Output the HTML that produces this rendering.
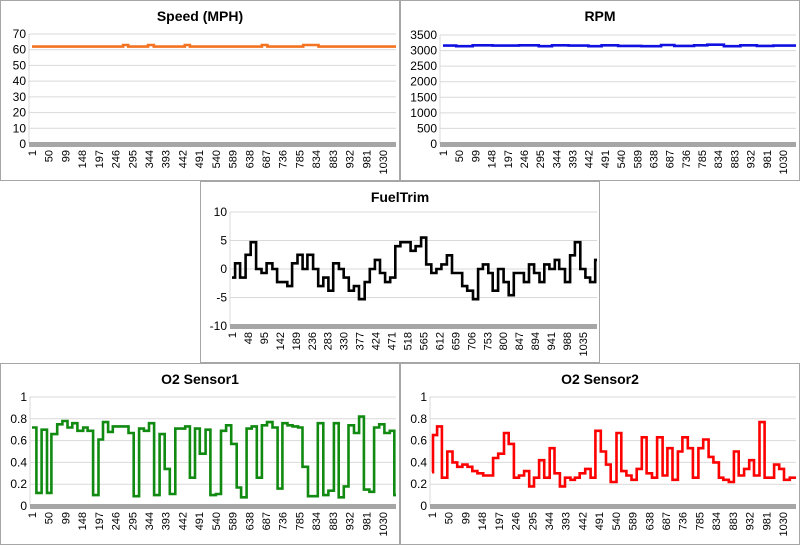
<!DOCTYPE html>
<html><head><meta charset="utf-8">
<style>
html,body{margin:0;padding:0;background:#fff;}
body{width:800px;height:545px;position:relative;overflow:hidden;font-family:"Liberation Sans",sans-serif;}
svg{position:absolute;left:0;top:0;}
</style></head>
<body>
<svg id="chart" width="800" height="545" viewBox="0 0 800 545" xmlns="http://www.w3.org/2000/svg"></svg>
<script>
// ---- data ----
const xTicks1 = [1,50,99,148,197,246,295,344,393,442,491,540,589,638,687,736,785,834,883,932,981,1030];
const xTicksFuel = [1,48,95,142,189,236,283,330,377,424,471,518,565,612,659,706,753,800,847,894,941,988,1035];

const speedStarts = [0,267,282,340,357,448,463,674,690,795,840];
const speedValues = [62,63,62,63,62,63,62,63,62,63,62];
const speedYTicks = [0,10,20,30,40,50,60,70];

const rpmStarts = [0,40,90,150,230,290,330,380,440,480,530,600,660,700,760,800,850,900,950,1000];
const rpmValues = [3160,3140,3170,3160,3170,3140,3170,3160,3140,3170,3150,3140,3180,3150,3170,3190,3140,3170,3150,3160];
const rpmYTicks = [0,500,1000,1500,2000,2500,3000,3500];

const fuelStarts = [0,9,24,40,55,71,87,102,119,133,163,177,193,208,222,239,254,269,284,298,315,329,344,359,374,391,406,421,436,451,466,481,496,526,541,557,572,587,602,617,633,648,678,693,710,725,739,755,768,784,800,815,830,860,875,890,906,920,935,951,964,981,996,1010,1026,1041,1055,1070];
const fuelValues = [-1.5,1,-1.5,2.5,4.7,0,-0.7,1,0,-2.3,-3,1,2.5,0,2.5,0,-3,-1.5,-3.8,1,0,-1.5,-3.8,-3,-5.3,-2.3,0,1.6,-0.7,-2.3,-1.5,4,4.7,3.2,4,5.5,0.8,-0.7,0,0.8,2.4,-0.7,-3,-3.8,-5.3,0,0.8,-0.7,-3.8,0,-2.3,-4.6,-0.7,-2.3,0.8,-0.7,-2.3,0.8,0,1.6,0,-2.3,2.4,4.7,0,-1.5,-2.3,1.6];
const fuelYTicks = [-10,-5,0,5,10];

const o2aStarts = [0,13,28,44,57,74,89,104,118,133,150,163,179,195,208,223,237,283,298,314,328,343,358,374,389,404,420,449,463,478,492,509,523,539,554,569,584,600,613,629,644,659,674,689,705,720,734,749,764,780,793,809,838,854,869,885,899,914,928,944,959,973,989,1003,1018,1033,1049,1062];
const o2aValues = [0.72,0.12,0.70,0.12,0.66,0.75,0.78,0.72,0.76,0.69,0.72,0.69,0.10,0.61,0.77,0.68,0.73,0.67,0.09,0.71,0.69,0.76,0.10,0.66,0.34,0.11,0.71,0.73,0.26,0.71,0.48,0.70,0.10,0.11,0.69,0.74,0.57,0.17,0.08,0.71,0.73,0.26,0.74,0.77,0.72,0.16,0.76,0.74,0.73,0.72,0.36,0.09,0.76,0.10,0.14,0.76,0.08,0.18,0.74,0.67,0.82,0.15,0.13,0.72,0.75,0.67,0.69,0.10];
const o2YTicks = [0,0.2,0.4,0.6,0.8,1];

const o2bStarts = [0,3,15,29,45,60,74,89,104,118,133,150,179,194,211,225,240,255,270,285,299,314,329,345,359,375,390,406,419,433,449,465,479,495,510,524,541,555,570,585,600,615,629,645,660,676,690,705,721,734,750,765,781,795,811,825,841,854,870,885,899,915,930,944,960,975,1003,1018,1032,1049];
const o2bValues = [0.31,0.65,0.73,0.26,0.50,0.40,0.36,0.38,0.36,0.32,0.30,0.28,0.44,0.48,0.67,0.57,0.26,0.28,0.32,0.18,0.26,0.42,0.26,0.53,0.30,0.18,0.26,0.24,0.26,0.30,0.34,0.26,0.69,0.50,0.38,0.22,0.67,0.32,0.28,0.24,0.34,0.63,0.30,0.26,0.63,0.28,0.53,0.24,0.50,0.63,0.53,0.26,0.53,0.61,0.45,0.40,0.26,0.24,0.22,0.50,0.28,0.34,0.42,0.28,0.77,0.26,0.38,0.34,0.24,0.26];

const NS = "http://www.w3.org/2000/svg";
const svg = document.getElementById('chart');
function el(tag, attrs, parent){const e=document.createElementNS(NS,tag);for(const k in attrs)e.setAttribute(k,attrs[k]);(parent||svg).appendChild(e);return e;}

function drawChart(c){
  const g = el('g',{});
  
  
  const frame = el('rect',{x:c.px+0.5,y:c.py+0.5,width:c.pw-1,height:c.ph-1,fill:'#fff',stroke:'#a6a6a6','stroke-width':1},g);
  
  
  const t = el('text',{x:c.px+c.pw/2,y:c.py+21,'text-anchor':'middle','font-size':14,'font-weight':'bold',fill:'#000'},g);
  t.textContent = c.title;
  
  
  const ymin=c.yTicks[0], ymax=c.yTicks[c.yTicks.length-1];
  const y = v => c.yBot - (v-ymin)/(ymax-ymin)*(c.yBot-c.yTop);
  const x = i => c.x1 + (i-1)*(c.x2-c.x1)/(c.lastTick-1);
  // gridlines & y labels
  c.yTicks.forEach(v=>{
    if(v!==ymin){
      const gl=el('line',{x1:c.left,x2:c.right,y1:y(v),y2:y(v),stroke:'#d9d9d9','stroke-width':1},g);
      
      
    }
    const lt=el('text',{x:c.left-3,y:y(v)+4,'text-anchor':'end','font-size':12,fill:'#000'},g);
    lt.textContent = String(v);
    
    
  });
  const va=el('line',{x1:c.left,x2:c.left,y1:c.yTop,y2:c.yBot,stroke:'#d9d9d9','stroke-width':1},g);
  
  
  // series
  let d='';
  for(let k=0;k<c.starts.length;k++){
    const xa=x(c.starts[k]+1);
    const xb=k+1<c.starts.length?x(c.starts[k+1]+1):c.right;
    const yy=y(c.values[k]);
    d += (k===0?'M':'L')+xa.toFixed(1)+','+yy.toFixed(1)+' L'+xb.toFixed(1)+','+yy.toFixed(1)+' ';
  }
  const p=el('path',{d:d,fill:'none',stroke:c.color,'stroke-width':2.6,'stroke-linejoin':'miter'},g);
  
  
  // axis band
  const band=el('rect',{x:c.left,y:c.yBot-2,width:c.right-c.left,height:5,fill:'#a6a6a6'},g);
  
  
  // x labels
  c.xTicks.forEach(v=>{
    const xx=x(v);
    const lt=el('text',{x:0,y:0,'text-anchor':'end','font-size':11,fill:'#000',transform:'translate('+(xx+4)+','+(c.yBot+6)+') rotate(-90)'},g);
    lt.textContent=String(v);
    
    
  });
}

drawChart({name:'speed-chart',title:'Speed (MPH)',px:0,py:0,pw:400,ph:181,left:29,right:396,yTop:34,yBot:144,x1:32,x2:383,lastTick:1030,yTicks:speedYTicks,xTicks:xTicks1,starts:speedStarts,values:speedValues,color:'#f47320'});
drawChart({name:'rpm-chart',title:'RPM',px:400,py:0,pw:400,ph:181,left:440,right:796,yTop:35,yBot:144,x1:443,x2:783,lastTick:1030,yTicks:rpmYTicks,xTicks:xTicks1,starts:rpmStarts,values:rpmValues,color:'#1010e0'});
drawChart({name:'fueltrim-chart',title:'FuelTrim',px:200,py:181,pw:400,ph:182,left:230,right:597,yTop:212,yBot:326,x1:232,x2:583,lastTick:1035,yTicks:fuelYTicks,xTicks:xTicksFuel,starts:fuelStarts,values:fuelValues,color:'#000000'});
drawChart({name:'o2-sensor1-chart',title:'O2 Sensor1',px:0,py:363,pw:400,ph:182,left:30,right:396,yTop:397,yBot:506,x1:32,x2:383,lastTick:1030,yTicks:o2YTicks,xTicks:xTicks1,starts:o2aStarts,values:o2aValues,color:'#108a10'});
drawChart({name:'o2-sensor2-chart',title:'O2 Sensor2',px:400,py:363,pw:400,ph:182,left:430,right:796,yTop:397,yBot:506,x1:432,x2:783,lastTick:1030,yTicks:o2YTicks,xTicks:xTicks1,starts:o2bStarts,values:o2bValues,color:'#ff0000'});
</script>
</body></html>
